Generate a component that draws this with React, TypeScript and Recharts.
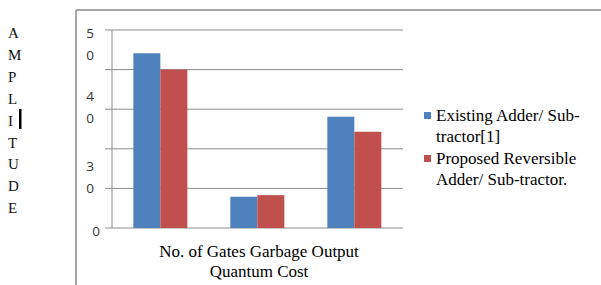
import React from "react";
import { BarChart, Bar, XAxis, YAxis, CartesianGrid, Legend } from "recharts";

const categories = ["No. of Gates", "Garbage Output", "Quantum Cost"];
const existingValues = [44.1, 7.9, 28.1];
const proposedValues = [40.0, 8.3, 24.3];
const seriesNames = ["Existing Adder/ Sub-tractor[1]", "Proposed Reversible Adder/ Sub-tractor."];
const legendLines = [["Existing Adder/ Sub-", "tractor[1]"], ["Proposed Reversible", "Adder/ Sub-tractor."]];
const yTickValues = [0, 10, 20, 30, 40, 50];
const yTickLabels = ["0", "3 0", "", "4 0", "", "5 0"];
const xTitleLines = ["No. of Gates Garbage Output", "Quantum Cost"];
const yTitleLetters = ["A", "M", "P", "L", "I", "T", "U", "D", "E"];
const boundaryTicks = [0, 1, 2, 3];

const data = categories.map((c, i) => ({
  name: c,
  existing: existingValues[i],
  proposed: proposedValues[i],
}));

const BLUE = "#4F81BD";
const RED = "#C0504D";
const GRID = "#8c8c8c";
const SERIF = "Liberation Serif";

const labelOffsets: Record<number, number> = { 0: 3, 10: -22, 30: -13, 50: 3 };

const YTick = (props: any) => {
  const { x, y, payload } = props;
  const idx = yTickValues.indexOf(payload.value);
  const label = yTickLabels[idx] || "";
  if (!label) return null;
  const parts = label.split(" ");
  const off = labelOffsets[payload.value] ?? 0;
  const cx = parts.length === 1 ? x - 7 : x - 13;
  return (
    <g>
      {parts.map((p, i) => (
        <text
          key={i}
          x={cx}
          y={y + off + i * 22}
          textAnchor="middle"
          dominantBaseline="central"
          fontFamily="Open Sans"
          fontSize={13.5}
          fill="#333"
        >
          {p}
        </text>
      ))}
    </g>
  );
};

const LegendContent = () => (
  <div style={{ position: "relative", width: 170, height: 100, fontFamily: SERIF, fontSize: 17, color: "#000", textAlign: "left" }}>
    {legendLines.map((lines, si) => (
      <div key={si} style={{ position: "absolute", left: 0, top: si * 43 }}>
        <div style={{ position: "absolute", left: 0, top: 7, width: 7, height: 7, background: si === 0 ? BLUE : RED }} />
        {lines.map((l, li) => (
          <div key={li} style={{ position: "absolute", left: 12, top: li * 21, whiteSpace: "nowrap", lineHeight: "21px" }}>
            {l}
          </div>
        ))}
      </div>
    ))}
  </div>
);

export default function App() {
  return (
    <div style={{ position: "absolute", left: 0, top: 0, width: 601, height: 285, background: "#fff" }}>
      <BarChart
        width={601}
        height={285}
        data={data}
        margin={{ top: 30, right: 198, bottom: 57, left: 72 }}
        barCategoryGap="22%"
        barGap={0}
      >
        <CartesianGrid vertical={false} stroke={GRID} strokeWidth={1} />
        <XAxis dataKey="name" hide />
        <XAxis
          xAxisId="n"
          type="number"
          domain={[0, 3]}
          ticks={boundaryTicks}
          tick={false}
          tickSize={6}
          height={0}
          axisLine={{ stroke: GRID }}
          tickLine={{ stroke: GRID }}
        />
        <YAxis
          width={40}
          domain={[0, 50]}
          ticks={yTickValues}
          interval={0}
          tickSize={7}
          axisLine={{ stroke: GRID }}
          tickLine={{ stroke: GRID }}
          tick={<YTick />}
        />
        <Legend
          layout="horizontal"
          align="center"
          verticalAlign="middle"
          wrapperStyle={{ position: "absolute", left: 424, top: 105, width: 170 }}
          content={<LegendContent />}
        />
        <Bar dataKey="existing" name={seriesNames[0]} fill={BLUE} isAnimationActive={false} />
        <Bar dataKey="proposed" name={seriesNames[1]} fill={RED} isAnimationActive={false} />
      </BarChart>
      <svg width={601} height={285} style={{ position: "absolute", left: 0, top: 0, pointerEvents: "none" }}>
        <line x1={76} y1={10} x2={601} y2={10} stroke="#a6a6a6" strokeWidth={2} />
        <line x1={76} y1={10} x2={76} y2={285} stroke="#a6a6a6" strokeWidth={2} />
        {yTitleLetters.map((ch, i) => (
          <text
            key={i}
            x={8}
            y={33 + i * 21.9}
            dominantBaseline="central"
            fontFamily={SERIF}
            fontSize={15}
            fill="#111"
          >
            {ch}
          </text>
        ))}
        <rect x={19} y={109} width={2.5} height={20} fill="#000" />
        {xTitleLines.map((l, i) => (
          <text
            key={i}
            x={259}
            y={257 + i * 20}
            textAnchor="middle"
            fontFamily={SERIF}
            fontSize={17}
            fill="#000"
          >
            {l}
          </text>
        ))}
      </svg>
    </div>
  );
}
